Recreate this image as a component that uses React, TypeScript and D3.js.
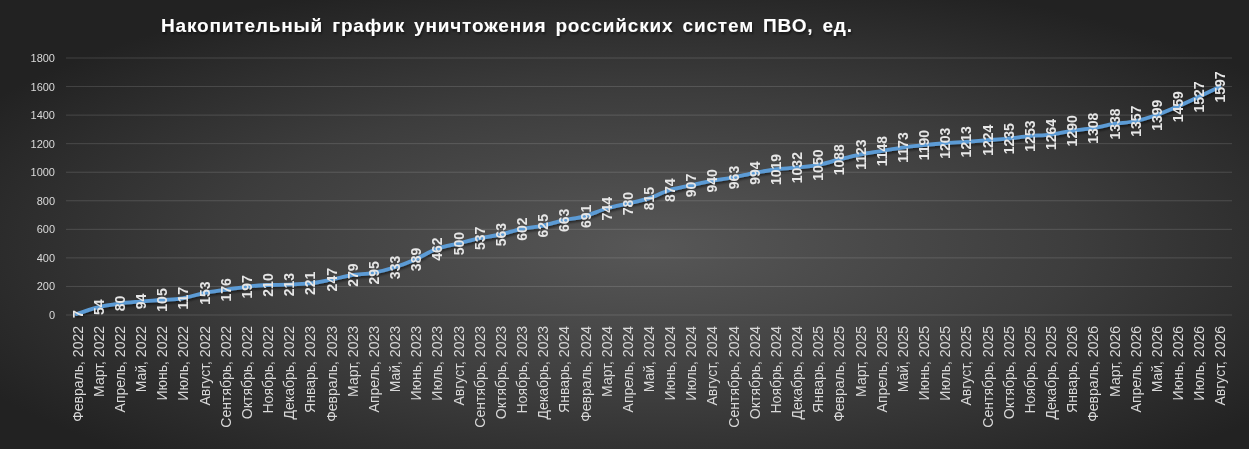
import { useMemo } from "react";
import * as d3 from "d3";

/* ------------------------------------------------------------------ */
/*  Data                                                              */
/* ------------------------------------------------------------------ */

const months: string[] = [
  "Февраль, 2022", "Март, 2022", "Апрель, 2022", "Май, 2022", "Июнь, 2022",
  "Июль, 2022", "Август, 2022", "Сентябрь, 2022", "Октябрь, 2022", "Ноябрь, 2022",
  "Декабрь, 2022", "Январь, 2023", "Февраль, 2023", "Март, 2023", "Апрель, 2023",
  "Май, 2023", "Июнь, 2023", "Июль, 2023", "Август, 2023", "Сентябрь, 2023",
  "Октябрь, 2023", "Ноябрь, 2023", "Декабрь, 2023", "Январь, 2024", "Февраль, 2024",
  "Март, 2024", "Апрель, 2024", "Май, 2024", "Июнь, 2024", "Июль, 2024",
  "Август, 2024", "Сентябрь, 2024", "Октябрь, 2024", "Ноябрь, 2024", "Декабрь, 2024",
  "Январь, 2025", "Февраль, 2025", "Март, 2025", "Апрель, 2025", "Май, 2025",
  "Июнь, 2025", "Июль, 2025", "Август, 2025", "Сентябрь, 2025", "Октябрь, 2025",
  "Ноябрь, 2025", "Декабрь, 2025", "Январь, 2026", "Февраль, 2026", "Март, 2026",
  "Апрель, 2026", "Май, 2026", "Июнь, 2026", "Июль, 2026", "Август, 2026",
];

const destroyed: number[] = [
  7, 54, 80, 94, 105, 117, 153, 176, 197, 210,
  213, 221, 247, 279, 295, 333, 389, 462, 500, 537,
  563, 602, 625, 663, 691, 744, 780, 815, 874, 907,
  940, 963, 994, 1019, 1032, 1050, 1088, 1123, 1148, 1173,
  1190, 1203, 1213, 1224, 1235, 1253, 1264, 1290, 1308, 1338,
  1357, 1399, 1459, 1527, 1597,
];

const yTicks: number[] = [0, 200, 400, 600, 800, 1000, 1200, 1400, 1600, 1800];

const title = "Накопительный график уничтожения российских систем ПВО, ед.";

/* ------------------------------------------------------------------ */
/*  Chart                                                             */
/* ------------------------------------------------------------------ */

const W = 1249;
const H = 449;
const FONT = "'Liberation Sans', Arial, sans-serif";

export default function App() {
  const x = useMemo(
    () => d3.scaleBand<string>().domain(months).range([66, 1230]).padding(0),
    [],
  );
  const y = useMemo(() => d3.scaleLinear().domain([0, 1800]).range([315, 58]), []);

  const cx = (m: string) => (x(m) ?? 0) + x.bandwidth() / 2;

  const linePath = d3
    .line<number>()
    .x((_, i) => cx(months[i]))
    .y((d) => y(d))
    .curve(d3.curveMonotoneX)(destroyed);

  return (
    <svg
      width={W}
      height={H}
      style={{ position: "fixed", left: 0, top: 0, display: "block" }}
    >
      <defs>
        <radialGradient id="bg" cx="0.52" cy="0.55" r="0.62">
          <stop offset="0" stopColor="#575757" />
          <stop offset="0.55" stopColor="#3d3d3d" />
          <stop offset="1" stopColor="#222222" />
        </radialGradient>
        <filter id="shadow" x="-5%" y="-20%" width="110%" height="160%">
          <feDropShadow dx="1" dy="2" stdDeviation="1.2" floodColor="#000" floodOpacity="0.5" />
        </filter>
      </defs>

      <rect width={W} height={H} fill="url(#bg)" />

      {/* Title */}
      <text
        x={161}
        y={32}
        fill="#ffffff"
        fontFamily={FONT}
        fontWeight={700}
        fontSize={19}
        wordSpacing={3}
        textLength={691}
        lengthAdjust="spacing"
        filter="url(#shadow)"
      >
        {title}
      </text>

      {/* Gridlines & y labels */}
      {yTicks.map((t) => (
        <g key={t}>
          <line x1={66} x2={1232} y1={y(t)} y2={y(t)} stroke="#ffffff" strokeOpacity={0.14} />
          <text
            x={55}
            y={y(t)}
            textAnchor="end"
            dominantBaseline="central"
            fill="#d9d9d9"
            fontFamily={FONT}
            fontSize={11}
          >
            {t}
          </text>
        </g>
      ))}

      {/* Line */}
      <path
        d={linePath ?? ""}
        fill="none"
        stroke="#5b9bd5"
        strokeWidth={3.8}
        strokeLinejoin="round"
        strokeLinecap="round"
        filter="url(#shadow)"
      />

      {/* Data labels */}
      {destroyed.map((v, i) => (
        <text
          key={months[i]}
          transform={`translate(${cx(months[i]) + 1},${y(v)}) rotate(-90)`}
          textAnchor="middle"
          dominantBaseline="central"
          fill="#e6e6e6"
          fontFamily={FONT}
          fontWeight={700}
          fontSize={14}
        >
          {v}
        </text>
      ))}

      {/* X labels */}
      {months.map((m) => (
        <text
          key={m}
          transform={`translate(${cx(m) + 1},326) rotate(-90)`}
          textAnchor="end"
          dominantBaseline="central"
          fill="#d9d9d9"
          fontFamily={FONT}
          fontSize={14}
        >
          {m}
        </text>
      ))}
    </svg>
  );
}
